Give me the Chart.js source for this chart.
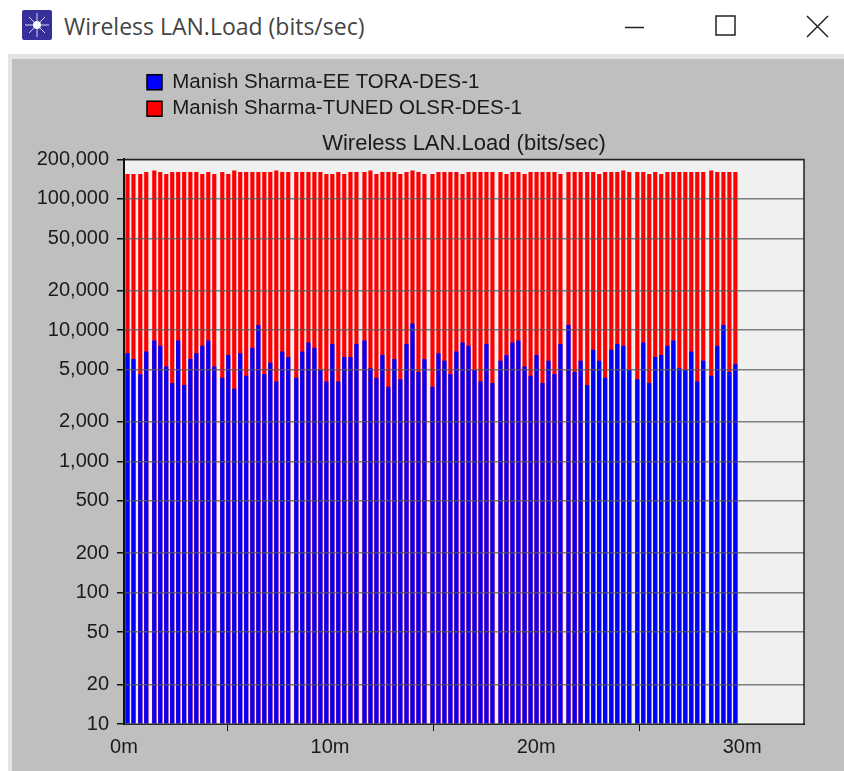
<!DOCTYPE html>
<html>
<head>
<meta charset="utf-8">
<title>Wireless LAN.Load (bits/sec)</title>
<script src="https://cdn.jsdelivr.net/npm/chart.js@4/dist/chart.umd.min.js"></script>
<style>
  html, body { margin: 0; padding: 0; background: #fff; overflow: hidden; }
  #win { position: relative; width: 844px; height: 771px; }
  #caption { position: absolute; left: 64px; top: 10px; font: 23px "Open Sans", sans-serif; color: #444; white-space: nowrap; }
  #panel { position: absolute; left: 8px; top: 54px; right: 0; bottom: 0; background: #bfbfbf; border-left: 4px solid #e4e4e4; border-top: 5px solid #e4e4e4; }
  #chrome { position: absolute; left: 0; top: 0; }
  canvas#chart { position: absolute; left: 0; top: 0; filter: blur(0.5px); }
</style>
</head>
<body>
<div id="win">
  <svg id="chrome" width="844" height="54">
    <rect x="22" y="10" width="30" height="30" rx="2" fill="#37309c"/>
    <path d="M37 13V37M25 25H49M29 17L45 33M45 17L29 33" stroke="#d8d8f0" stroke-width="1"/>
    <circle cx="37" cy="25" r="4" fill="#fff"/>
    <path d="M625 27.5H644" stroke="#222" stroke-width="1.5"/>
    <rect x="716" y="16" width="19" height="19" fill="none" stroke="#222" stroke-width="1.5"/>
    <path d="M807 16L828 37M828 16L807 37" stroke="#222" stroke-width="1.5"/>
  </svg>
  <div id="caption">Wireless LAN.Load (bits/sec)</div>
  <div id="panel"></div>
  <canvas id="chart" width="844" height="771"></canvas>
</div>
<script>
// time of each bar, minutes
const times = [
  0.17, 0.46, 0.79, 1.08, 1.47, 1.76, 2.05, 2.34, 2.63, 2.92, 3.22, 3.51, 3.80, 4.09, 4.38,
  4.77, 5.06, 5.35, 5.64, 5.93, 6.23, 6.52, 6.81, 7.10, 7.39, 7.68, 7.97,
  8.36, 8.65, 8.95, 9.24, 9.53, 9.82, 10.11, 10.40, 10.69, 10.99, 11.28,
  11.67, 11.96, 12.25, 12.54, 12.83, 13.12, 13.41, 13.71, 14.00, 14.29, 14.58,
  14.97, 15.26, 15.55, 15.84, 16.13, 16.43, 16.72, 17.01, 17.30, 17.59, 17.88,
  18.27, 18.56, 18.85, 19.14, 19.44, 19.73, 20.02, 20.31, 20.60, 20.89, 21.18,
  21.57, 21.87, 22.16, 22.48, 22.77, 23.06, 23.35, 23.65, 23.94, 24.23, 24.52,
  24.91, 25.20, 25.49, 25.78, 26.07, 26.37, 26.66, 26.95, 27.24, 27.53, 27.82, 28.11,
  28.50, 28.79, 29.09, 29.38, 29.67
];

const toraLoad = [
  6620, 5990, 4610, 6850, 8310, 7570, 5270, 3935, 8310, 3800, 5990, 6620, 7570, 8310, 5270,
  4320, 6430, 3565, 6620, 4475, 7310, 10870, 4610, 5620, 4050, 6850, 6200,
  4320, 6850, 8020, 7310, 4940, 4050, 7790, 4050, 6200, 6200,
  7790, 8310, 5090, 4320, 6430, 3690, 5990, 4200, 7790, 11190, 4770, 5990,
  3690, 6620, 5820, 4610, 6850, 8020, 7570, 4940, 4050, 7790, 3935,
  5820, 6430, 8020, 8310, 5270, 4475, 6430, 3935, 5820, 4610, 7790,
  10870, 4770, 5820, 3800, 7060, 5820, 4320, 7060, 7790, 7570, 4940,
  4200, 8020, 3935, 6200, 6430, 7570, 8310, 5090, 4940, 6850, 4050, 5820,
  4475, 7570, 10870, 4770, 5460
];

const olsrLoad = [
  154000, 154000, 154000, 159500, 164000, 159500, 154000, 159500, 159500, 159500, 159500, 159500, 154000, 159500, 154000,
  159500, 154000, 164000, 159500, 159500, 159500, 159500, 159500, 159500, 164000, 159500, 159500,
  159500, 159500, 159500, 159500, 159500, 154000, 154000, 159500, 154000, 159500,
  159500, 159500, 164000, 154000, 159500, 159500, 159500, 154000, 159500, 164000, 159500, 154000,
  154000, 159500, 159500, 159500, 159500, 154000, 159500, 159500, 159500, 159500, 159500,
  159500, 154000, 159500, 159500, 154000, 159500, 159500, 159500, 159500, 159500, 154000,
  159500, 159500, 159500, 159500, 159500, 154000, 159500, 159500, 159500, 164000, 159500,
  159500, 159500, 154000, 159500, 154000, 159500, 159500, 159500, 159500, 159500, 159500, 159500,
  164000, 159500, 159500, 159500, 159500
];

const yTicks = [200000, 100000, 50000, 20000, 10000, 5000, 2000, 1000, 500, 200, 100, 50, 20, 10];
const xTicks = [0, 10, 20, 30];
const seriesNames = ["Manish Sharma-EE TORA-DES-1", "Manish Sharma-TUNED OLSR-DES-1"];
const seriesColors = ["#0000ff", "#ff0000"];

const textColor = "#1a1a1a";
const tickFont = { family: "Liberation Sans", size: 20 };

// legend sits above the plot, away from the chart area
const legendPlacer = {
    id: "legendPlacer",
    afterLayout(chart) {
        const legend = chart.legend;
        legend.left = 141;
        legend.right = 560;
        legend.top = 66;
        legend.bottom = 135;
    }
};

// plot background, and the top and right edge of its frame
const plotFrame = {
    id: "plotFrame",
    beforeDatasetsDraw(chart) {
        const a = chart.chartArea;
        chart.ctx.save();
        chart.ctx.fillStyle = "#f0f0f0";
        chart.ctx.fillRect(a.left, a.top, a.right - a.left, a.bottom - a.top);
        chart.ctx.restore();
    },
    afterDraw(chart) {
        const a = chart.chartArea;
        const c = chart.ctx;
        c.save();
        c.strokeStyle = "#222";
        c.lineWidth = 1.5;
        c.beginPath();
        c.moveTo(a.left, a.top);
        c.lineTo(a.right, a.top);
        c.lineTo(a.right, a.bottom);
        c.stroke();
        c.restore();
    }
};

new Chart(document.getElementById("chart"), {
    type: "bar",
    plugins: [legendPlacer, plotFrame],
    data: {
        datasets: [
            {
                label: seriesNames[0],
                data: times.map((t, i) => ({ x: t, y: toraLoad[i] })),
                backgroundColor: seriesColors[0],
                order: 1,
            },
            {
                label: seriesNames[1],
                data: times.map((t, i) => ({ x: t, y: olsrLoad[i] })),
                backgroundColor: seriesColors[1],
                order: 2,
            }
        ]
    },
    options: {
        responsive: false,
        animation: false,
        grouped: false,
        barThickness: 3.5,
        layout: { padding: { right: 40 } },
        plugins: {
            tooltip: { enabled: false },
            title: {
                display: true,
                text: "Wireless LAN.Load (bits/sec)",
                fullSize: false,
                color: textColor,
                font: { family: "Liberation Sans", size: 22, weight: "normal" },
                padding: { top: 131, bottom: 2 },
            },
            legend: {
                position: "chartArea",
                align: "start",
                labels: {
                    color: textColor,
                    font: { family: "Liberation Sans", size: 20.5 },
                    boxWidth: 15,
                    boxHeight: 15,
                    padding: 6,
                    generateLabels: () => seriesNames.map((name, i) => ({
                        text: name,
                        fillStyle: seriesColors[i],
                        strokeStyle: "#000",
                        lineWidth: 1.5,
                        fontColor: textColor,
                        datasetIndex: i,
                    })),
                },
            },
        },
        scales: {
            x: {
                type: "linear",
                min: 0,
                max: 33,
                offset: false,
                afterBuildTicks: (axis) => { axis.ticks = xTicks.map((v) => ({ value: v })); },
                afterFit: (axis) => { axis.height = 47; },
                border: { color: "#111", width: 2 },
                grid: { drawOnChartArea: false, tickLength: 7, tickColor: "#111" },
                ticks: {
                    color: textColor,
                    font: tickFont,
                    maxRotation: 0,
                    padding: 4,
                    callback: (v) => v + "m",
                },
            },
            y: {
                type: "logarithmic",
                min: 10,
                max: 200000,
                afterBuildTicks: (axis) => { axis.ticks = yTicks.map((v) => ({ value: v })); },
                afterFit: (axis) => { axis.width = 124; },
                // border has to share the grid's z or it draws before its position is known
                border: { color: "#111", width: 2, z: 1 },
                grid: { color: "rgba(90,90,90,0.75)", lineWidth: 1.5, z: 1, tickLength: 7, tickColor: "#111" },
                ticks: {
                    color: textColor,
                    font: tickFont,
                    padding: 8,
                    autoSkip: false,
                    callback: (v) => Number(v).toLocaleString("en-US"),
                },
            },
        },
    },
});
</script>
</body>
</html>
